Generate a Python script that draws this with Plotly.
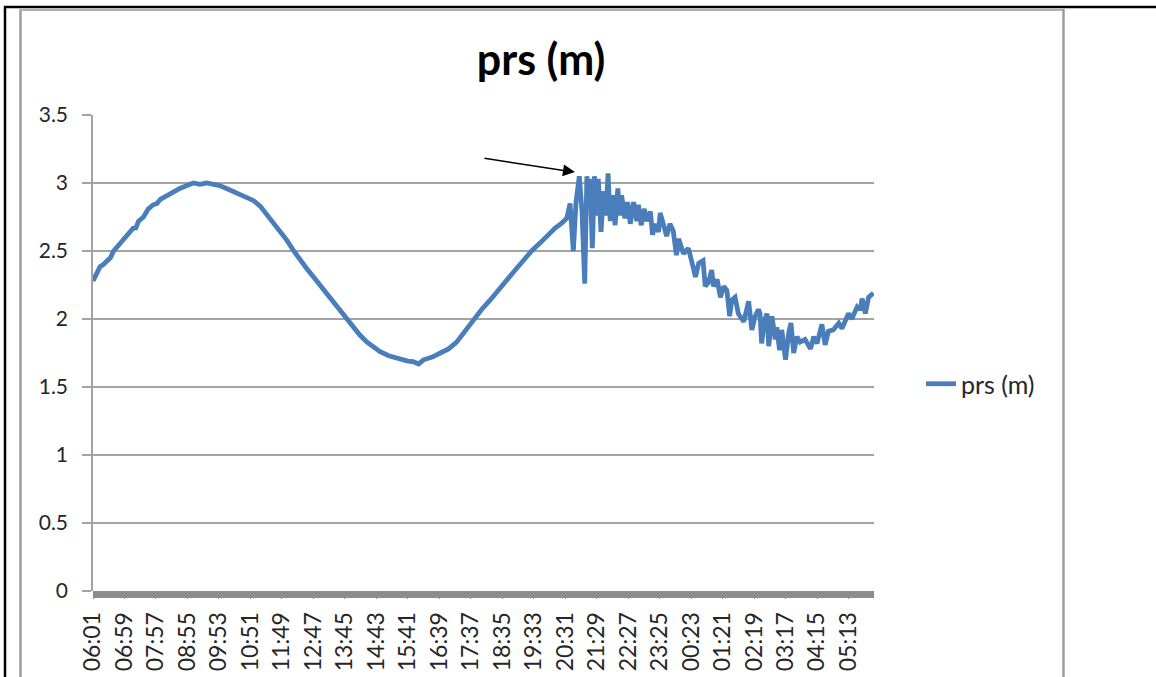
import plotly.graph_objects as go

# minutes after 06:01 (one reading per minute in the original sheet)
minutes = [0, 6, 13, 19, 25, 32, 38, 44, 50, 56, 65, 74, 79, 84, 93, 102, 111, 118, 124, 136, 148, 160,
           172, 185, 197, 210, 222, 234, 246, 264, 283, 296, 308, 320, 332, 345, 357, 370, 382,
           394, 406, 418, 431, 443, 455, 468, 480, 492, 505, 517, 529, 545, 560, 570, 580, 590,
           600, 609, 625, 640, 655, 670, 685, 701, 716, 732, 748, 763, 778, 793, 808, 824, 838,
           852, 862,
           873, 879, 885, 890, 896, 901, 906, 910, 913, 916, 920, 924, 928, 931, 936, 941, 945,
           949, 953, 957, 962, 967, 971, 974, 980, 985, 990, 996, 1002, 1005, 1010, 1016, 1020,
           1027, 1031, 1036, 1042, 1045, 1051, 1057, 1063, 1069, 1075, 1079, 1088, 1097, 1104,
           1110, 1116, 1124, 1128, 1134, 1140, 1143, 1150, 1156, 1162, 1168, 1173, 1177, 1183,
           1189, 1199, 1208, 1214, 1220, 1226, 1229, 1232, 1237, 1242, 1245, 1251, 1257, 1260,
           1265, 1269, 1276, 1282, 1286, 1291, 1297, 1303, 1312, 1322, 1328, 1334, 1343, 1349,
           1355, 1364, 1374, 1380, 1386, 1392, 1398, 1408, 1414, 1417, 1423, 1429, 1438]

prs_m = [2.28, 2.33, 2.385, 2.40, 2.42, 2.45, 2.50, 2.53, 2.55, 2.58, 2.63, 2.667, 2.67, 2.72, 2.75, 2.81,
         2.84, 2.85, 2.88, 2.91, 2.94, 2.96, 2.98, 3.00, 2.99, 3.00, 2.99, 2.98, 2.96, 2.93, 2.89, 2.87,
         2.83, 2.77, 2.70, 2.64, 2.58, 2.50, 2.43, 2.37, 2.31, 2.25, 2.19, 2.13, 2.07, 2.00, 1.94,
         1.88, 1.83, 1.79, 1.76, 1.73, 1.71, 1.70, 1.69, 1.686, 1.67, 1.70, 1.72, 1.75, 1.78, 1.83,
         1.91, 1.99, 2.07, 2.14, 2.22, 2.29, 2.36, 2.43, 2.50, 2.56, 2.62, 2.67, 2.70,
         2.74, 2.85, 2.50, 2.86, 3.05, 2.79, 2.26, 3.05, 2.84, 3.03, 2.52, 3.05, 2.76, 3.03, 2.64,
         2.94, 2.76, 3.07, 2.72, 2.91, 2.69, 2.96, 2.76, 2.91, 2.74, 2.86, 2.70, 2.86, 2.72, 2.84,
         2.69, 2.81, 2.72, 2.79, 2.62, 2.70, 2.64, 2.78, 2.70, 2.61, 2.70, 2.65, 2.47, 2.59, 2.48,
         2.52, 2.41, 2.31, 2.41, 2.43, 2.24, 2.27, 2.36, 2.24, 2.29, 2.16, 2.24, 2.21, 2.02, 2.14,
         2.16, 2.04, 1.98, 2.13, 1.92, 2.02, 2.07, 2.04, 1.82, 1.99, 2.04, 1.80, 2.02, 1.85, 1.94,
         1.77, 1.92, 1.70, 1.90, 1.97, 1.75, 1.87, 1.83, 1.85, 1.78, 1.87, 1.82, 1.96, 1.81, 1.91,
         1.92, 1.97, 1.93, 1.99, 2.04, 2.00, 2.09, 2.07, 2.15, 2.04, 2.16, 2.19]

tick_labels = ["06:01", "06:59", "07:57", "08:55", "09:53", "10:51", "11:49", "12:47", "13:45",
               "14:43", "15:41", "16:39", "17:37", "18:35", "19:33", "20:31", "21:29", "22:27",
               "23:25", "00:23", "01:21", "02:19", "03:17", "04:15", "05:13"]
tick_step = 58  # label every 58 categories
tick_positions = [i * tick_step for i in range(len(tick_labels))]
y_ticks = [0, 0.5, 1, 1.5, 2, 2.5, 3, 3.5]
y_tick_text = ["0", "0.5", "1", "1.5", "2", "2.5", "3", "3.5"]

W, H = 1156, 677
L, R, T, B = 93, 874, 115, 591
PW, PH = R - L, B - T

def px(x):
    return (x - L) / PW

def py(y):
    return (B - y) / PH

blue = "#4a7ebb"
grid = "#a3a3a3"
txt = "#262626"
font = "Lato"

fig = go.Figure()
fig.add_trace(go.Scatter(x=minutes, y=prs_m, mode="lines", name="prs (m)",
                         line=dict(color=blue, width=4.8)))

shapes = [
    # dense category tick band along the x axis
    dict(type="rect", xref="paper", yref="paper", x0=0, x1=1, y0=py(598), y1=0,
         fillcolor="#8c8c8c", line=dict(width=0), layer="above"),
    # chart area border (grey)
    dict(type="line", xref="paper", yref="paper", x0=px(20.5), x1=px(20.5), y0=py(9), y1=py(680),
         line=dict(color="#9c9c9c", width=2.5)),
    dict(type="line", xref="paper", yref="paper", x0=px(20), x1=px(1063.5), y0=py(10), y1=py(10),
         line=dict(color="#b0b0b0", width=2)),
    dict(type="line", xref="paper", yref="paper", x0=px(1063.5), x1=px(1063.5), y0=py(9), y1=py(680),
         line=dict(color="#9c9c9c", width=2.5)),
    # outer black frame
    dict(type="line", xref="paper", yref="paper", x0=px(4), x1=px(1160), y0=py(7), y1=py(7),
         line=dict(color="black", width=2.5)),
    dict(type="line", xref="paper", yref="paper", x0=px(5), x1=px(5), y0=py(6), y1=py(680),
         line=dict(color="black", width=2.5)),
]

fig.update_layout(
    width=W, height=H,
    margin=dict(l=L, r=W - R, t=T, b=H - B, pad=0),
    paper_bgcolor="white", plot_bgcolor="white",
    title=dict(text="<b>prs (m)</b>", x=px(541), xref="paper", xanchor="center",
               y=1 - 60 / H, yref="container", yanchor="middle",
               font=dict(family=font, size=43, color="black")),
    showlegend=True,
    legend=dict(x=px(921), y=py(384), xanchor="left", yanchor="middle",
                font=dict(family=font, size=25, color=txt), bgcolor="rgba(0,0,0,0)",
                itemwidth=30),
    xaxis=dict(range=[0, 1439], tickmode="array", tickvals=tick_positions, ticktext=tick_labels,
               tickangle=-90, tickfont=dict(family=font, size=23, color=txt),
               ticks="outside", ticklen=7, tickwidth=1, tickcolor="#8c8c8c",
               ticklabelstandoff=4, automargin=False,
               showgrid=False, zeroline=False, showline=False),
    yaxis=dict(range=[0, 3.5], tickmode="array", tickvals=y_ticks, ticktext=y_tick_text,
               tickfont=dict(family=font, size=21, color=txt),
               ticks="outside", ticklen=9, tickwidth=1.5, tickcolor=grid,
               ticklabelstandoff=10, automargin=False,
               showgrid=True, gridcolor=grid, gridwidth=1.5,
               zeroline=False, showline=True, linecolor=grid, linewidth=1.5),
    shapes=shapes,
    annotations=[dict(x=888, y=3.08, xref="x", yref="y", ax=-92, ay=-14,
                      showarrow=True, arrowhead=2, arrowsize=1.6, arrowwidth=1.5,
                      arrowcolor="black", text="")],
)

fig.write_html("out.html", config={"displayModeBar": False},
               post_script="document.body.style.margin='0';")
